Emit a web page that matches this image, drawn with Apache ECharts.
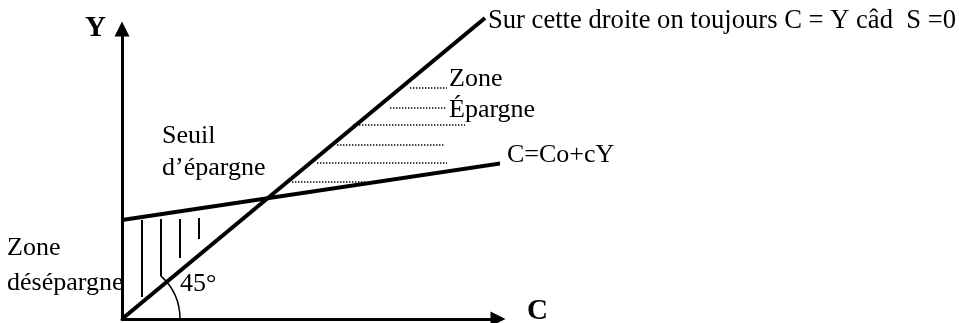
<!DOCTYPE html>
<html>
<head>
<meta charset="utf-8">
<script src="https://cdn.jsdelivr.net/npm/echarts@6/dist/echarts.min.js"></script>
<style>
  html, body { margin: 0; padding: 0; background: #fff; }
  #chart { width: 959px; height: 323px; }
</style>
</head>
<body>
<div id="chart"></div>
<script>
// units: 1 unit ~ 1 px of the original drawing, origin at the corner of the axes
const diagonalPts = [[0, 0], [363, 301]];        // C = Y (45° line)
const consumptionPts = [[0, 99], [381, 156]];    // C = Co + cY

// vertical hatching (zone de désépargne)
const hatchX = [20, 39, 58, 77];
const hatchTop = [99, 100, 100, 101];
const hatchBottom = [22, 43, 61, 80];

// dotted hatching (zone d'épargne)
const dotY = [231, 211, 194, 174, 156, 137];
const dotStart = [288, 268, 231, 215, 195, 170];
const dotEnd = [325, 325, 343, 323, 325, 243];

// 45° angle mark
const arcRadius = 58;
const arcDeg = 48;

const serif = '"Liberation Serif", "Times New Roman", serif';

const chart = echarts.init(document.getElementById('chart'));

function label(text, x, baseline, size, bold) {
  return {
    type: 'text',
    x: x,
    y: baseline - 0.34 * size,
    z: 10,
    style: {
      text: text,
      fill: '#000',
      fontFamily: serif,
      fontSize: size,
      fontWeight: bold ? 'bold' : 'normal',
      align: 'left',
      verticalAlign: 'middle'
    }
  };
}

chart.setOption({
  backgroundColor: '#fff',
  animation: false,
  grid: { left: 122, right: 461, top: 29, bottom: 4 },
  xAxis: {
    type: 'value', min: 0, max: 376,
    axisLine: { show: true, onZero: false, symbol: ['none', 'triangle'], symbolSize: [15, 15],
      lineStyle: { color: '#000', width: 3 } },
    axisTick: { show: false }, axisLabel: { show: false }, splitLine: { show: false }
  },
  yAxis: {
    type: 'value', min: 0, max: 290,
    axisLine: { show: true, onZero: false, symbol: ['none', 'triangle'], symbolSize: [15, 15],
      lineStyle: { color: '#000', width: 3 } },
    axisTick: { show: false }, axisLabel: { show: false }, splitLine: { show: false }
  },
  series: [
    {
      name: 'C = Y', type: 'line', data: diagonalPts, symbol: 'none', clip: false,
      lineStyle: { color: '#000', width: 4 }
    },
    {
      name: 'C=Co+cY', type: 'line', data: consumptionPts, symbol: 'none', clip: false,
      lineStyle: { color: '#000', width: 4 }
    },
    {
      name: 'désépargne', type: 'lines', coordinateSystem: 'cartesian2d',
      data: hatchX.map((x, i) => ({ coords: [[x, hatchTop[i]], [x, hatchBottom[i]]] })),
      lineStyle: { color: '#000', width: 2, opacity: 1 }
    },
    {
      name: 'épargne', type: 'lines', coordinateSystem: 'cartesian2d',
      data: dotY.map((y, i) => ({ coords: [[dotStart[i], y], [dotEnd[i], y]] })),
      lineStyle: { color: '#000', width: 1.6, type: [1.4, 1.6], opacity: 1 }
    },
    {
      name: 'angle', type: 'custom', data: [[0, 0]], clip: false,
      renderItem: function (params, api) {
        const c = api.coord([api.value(0), api.value(1)]);
        const r = api.size([arcRadius, 0])[0];
        return {
          type: 'arc',
          shape: { cx: c[0], cy: c[1], r: r, startAngle: -arcDeg * Math.PI / 180, endAngle: 0, clockwise: true },
          style: { stroke: '#000', lineWidth: 1.5, fill: null }
        };
      }
    }
  ],
  graphic: [
    label('Y', 85, 38, 29, true),
    label('C', 527, 321, 29, true),
    label('Sur cette droite on toujours C = Y câd  S =0', 488, 30, 26.6),
    label('Zone', 449, 88, 26),
    label('Épargne', 449, 119, 26),
    label('C=Co+cY', 507, 164, 26),
    label('Seuil', 162, 145, 26),
    label('d’épargne', 162, 177, 26),
    label('Zone', 7, 257, 26),
    label('désépargne', 7, 292, 26),
    label('45°', 180, 293, 26)
  ]
});
</script>
</body>
</html>
